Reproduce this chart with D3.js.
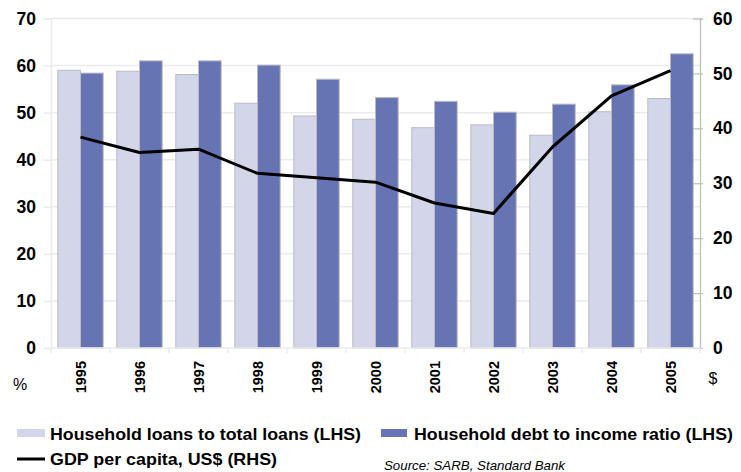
<!DOCTYPE html>
<html>
<head>
<meta charset="utf-8">
<script src="https://cdn.jsdelivr.net/npm/d3@7"></script>
<style>
  html, body { margin: 0; padding: 0; background: #fff; }
  svg { display: block; font-family: "Liberation Sans", Arial, sans-serif; }
</style>
</head>
<body>
<svg id="chart" width="741" height="472"></svg>
<script>
// Years on the category axis
const years = ["1995", "1996", "1997", "1998", "1999", "2000", "2001", "2002", "2003", "2004", "2005"];
// Household loans to total loans, % (left axis)
const loansToTotal = [59.0, 58.8, 58.1, 52.0, 49.3, 48.6, 46.8, 47.4, 45.2, 50.2, 53.0];
// Household debt to income ratio, % (left axis)
const debtToIncome = [58.4, 61.0, 61.0, 60.1, 57.1, 53.2, 52.4, 50.1, 51.8, 55.9, 62.5];
// GDP per capita, US$ (right axis)
const gdpPerCapita = [38.4, 35.6, 36.2, 31.8, 31.0, 30.2, 26.4, 24.5, 36.6, 45.9, 50.5];

const leftTicks = [0, 10, 20, 30, 40, 50, 60, 70];
const rightTicks = [0, 10, 20, 30, 40, 50, 60];
const seriesNames = ["Household loans to total loans (LHS)", "Household debt to income ratio (LHS)"];
const lineName = "GDP per capita, US$ (RHS)";
const sourceNote = "Source: SARB, Standard Bank";

const colors = { light: "#d3d5e8", dark: "#6674b4", barEdge: "#b9bac4", grid: "#ebebeb", axis: "#bdbdbd" };

const svg = d3.select("#chart");
const plot = { left: 51, right: 700, top: 18.5, bottom: 348 };

const x0 = d3.scaleBand().domain(years).range([plot.left, plot.right]).padding(0);
const x1 = d3.scaleBand().domain(["loans", "debt"]).range([0, x0.bandwidth()]).paddingInner(0).paddingOuter(0.3);
const yL = d3.scaleLinear().domain([0, 70]).range([plot.bottom, plot.top]);
const yR = d3.scaleLinear().domain([0, 60]).range([plot.bottom, plot.top]);

// Horizontal gridlines on the left-axis ticks
svg.append("g").selectAll("line").data(leftTicks.filter(d => d > 0)).join("line")
  .attr("x1", plot.left).attr("x2", plot.right)
  .attr("y1", d => yL(d)).attr("y2", d => yL(d))
  .attr("stroke", colors.grid).attr("stroke-width", 1.5);

// Left axis
const leftAxis = svg.append("g").attr("transform", `translate(${plot.left},0)`)
  .call(d3.axisLeft(yL).tickValues(leftTicks).tickSize(7).tickPadding(8));
leftAxis.select(".domain").attr("stroke", colors.grid).attr("stroke-width", 1.5);
leftAxis.selectAll(".tick line").attr("stroke", colors.grid).attr("stroke-width", 1.5);
leftAxis.selectAll(".tick text")
  .attr("font-size", 17.5).attr("font-weight", "bold").attr("fill", "#000")
  .attr("font-family", "Liberation Sans, Arial, sans-serif");

// Right axis
const rightAxis = svg.append("g").attr("transform", `translate(${plot.right},0)`)
  .call(d3.axisRight(yR).tickValues(rightTicks).tickSize(3).tickPadding(10));
rightAxis.select(".domain").attr("stroke", colors.axis).attr("stroke-width", 1.2);
rightAxis.selectAll(".tick line").attr("x1", -7).attr("x2", 3).attr("stroke", colors.axis).attr("stroke-width", 1.2);
rightAxis.selectAll(".tick text")
  .attr("font-size", 17.5).attr("font-weight", "bold").attr("fill", "#000")
  .attr("font-family", "Liberation Sans, Arial, sans-serif");

// Bars
const groups = svg.append("g").selectAll("g").data(years).join("g")
  .attr("transform", d => `translate(${x0(d)},0)`);
groups.append("rect")
  .attr("x", x1("loans")).attr("width", x1.bandwidth())
  .attr("y", (d, i) => yL(loansToTotal[i])).attr("height", (d, i) => yL(0) - yL(loansToTotal[i]))
  .attr("fill", colors.light).attr("stroke", colors.barEdge).attr("stroke-width", 1);
groups.append("rect")
  .attr("x", x1("debt")).attr("width", x1.bandwidth())
  .attr("y", (d, i) => yL(debtToIncome[i])).attr("height", (d, i) => yL(0) - yL(debtToIncome[i]))
  .attr("fill", colors.dark).attr("stroke", colors.barEdge).attr("stroke-width", 1);

// Category axis: baseline and ticks at band boundaries
svg.append("line").attr("x1", plot.left).attr("x2", plot.right)
  .attr("y1", plot.bottom).attr("y2", plot.bottom)
  .attr("stroke", colors.grid).attr("stroke-width", 1.5);
const boundaries = years.map(d => x0(d)).concat([plot.right]);
svg.append("g").selectAll("line").data(boundaries).join("line")
  .attr("x1", d => d).attr("x2", d => d)
  .attr("y1", plot.bottom).attr("y2", plot.bottom + 5)
  .attr("stroke", colors.grid).attr("stroke-width", 1.5);
svg.append("g").selectAll("text").data(years).join("text")
  .attr("transform", d => `translate(${x0(d) + x0.bandwidth() / 2},361) rotate(-90)`)
  .attr("text-anchor", "end").attr("dy", "0.36em")
  .attr("font-size", 14.5).attr("font-weight", "bold").attr("fill", "#000")
  .text(d => d);

// GDP line on the right axis
const line = d3.line()
  .x((d, i) => x0(years[i]) + x0.bandwidth() / 2)
  .y(d => yR(d));
svg.append("path").datum(gdpPerCapita)
  .attr("d", line).attr("fill", "none")
  .attr("stroke", "#000").attr("stroke-width", 3).attr("stroke-linejoin", "round");

// Unit labels
svg.append("text").attr("x", 20).attr("y", 390).attr("text-anchor", "middle")
  .attr("font-size", 16).attr("fill", "#000").text("%");
svg.append("text").attr("x", 713).attr("y", 384).attr("text-anchor", "middle")
  .attr("font-size", 16).attr("fill", "#000").text("$");

// Legend
const legend = svg.append("g");
legend.append("rect").attr("x", 17).attr("y", 429).attr("width", 28).attr("height", 8)
  .attr("fill", colors.light);
legend.append("text").attr("x", 50).attr("y", 440)
  .attr("font-size", 16.5).attr("font-weight", "bold").attr("fill", "#000")
  .attr("textLength", 311).attr("lengthAdjust", "spacingAndGlyphs")
  .text(seriesNames[0]);
legend.append("rect").attr("x", 381).attr("y", 429).attr("width", 26).attr("height", 8)
  .attr("fill", colors.dark);
legend.append("text").attr("x", 414).attr("y", 440)
  .attr("font-size", 16.5).attr("font-weight", "bold").attr("fill", "#000")
  .attr("textLength", 319).attr("lengthAdjust", "spacingAndGlyphs")
  .text(seriesNames[1]);
legend.append("line").attr("x1", 17).attr("x2", 45).attr("y1", 459).attr("y2", 459)
  .attr("stroke", "#000").attr("stroke-width", 3);
legend.append("text").attr("x", 50).attr("y", 465)
  .attr("font-size", 16.5).attr("font-weight", "bold").attr("fill", "#000")
  .attr("textLength", 227).attr("lengthAdjust", "spacingAndGlyphs")
  .text(lineName);

// Source note
svg.append("text").attr("x", 384).attr("y", 470)
  .attr("font-size", 13).attr("font-style", "italic").attr("fill", "#000")
  .attr("textLength", 181).attr("lengthAdjust", "spacingAndGlyphs")
  .text(sourceNote);
</script>
</body>
</html>
